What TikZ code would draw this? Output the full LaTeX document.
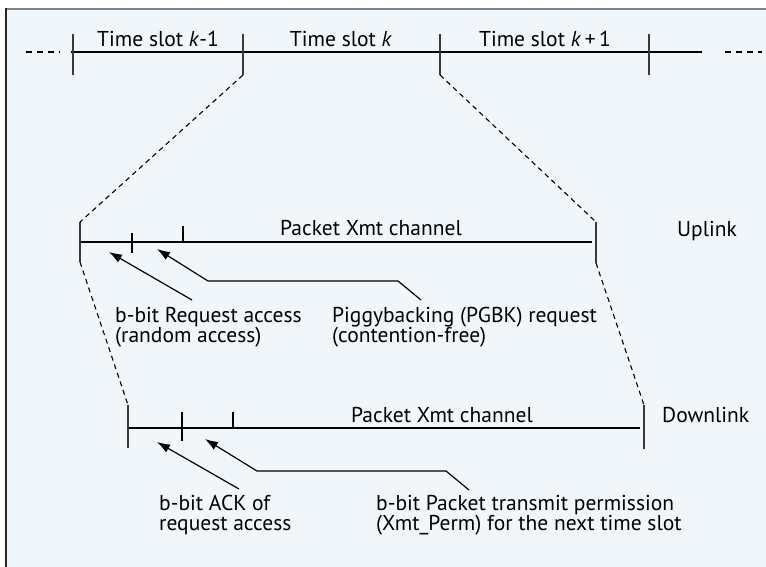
\documentclass[tikz,border=0pt]{standalone}
\usepackage{fontspec}
\setmainfont{PT Sans}
\usetikzlibrary{arrows.meta}
\definecolor{bgblue}{HTML}{F1F6FA}
\definecolor{topframe}{HTML}{858585}
\definecolor{tickgray}{HTML}{3A3A3A}
\tikzset{
  axis/.style={line width=1.3pt, black},
  tickmark/.style={line width=1.8pt, tickgray},
  zoomline/.style={line width=1.1pt, dash pattern=on 5pt off 4pt, black},
  pointer/.style={line width=1.2pt, -{Latex[length=13pt,width=9pt]}},
  lbl/.style={inner sep=0pt, anchor=base west, font=\fontsize{21.5}{20}\selectfont},
  clbl/.style={inner sep=0pt, anchor=base, font=\fontsize{21.5}{20}\selectfont},
}
\newcommand{\twolines}[2]{\vtop{\baselineskip=20pt\lineskiplimit=-20pt\hbox{#1}\hbox{#2}}}
\begin{document}
\begin{tikzpicture}[x=1pt,y=-1pt]
\useasboundingbox (0,0) rectangle (766,567);
\fill[bgblue] (6,9) rectangle (766,567);
\draw[topframe, line width=2pt] (5,9) -- (766,9);
\draw[black!85, line width=2pt] (6,8) -- (6,567);

% ---- top time line ----
\coordinate (tl0) at (71,52);
\coordinate (tr0) at (702,52);
\coordinate (dl0) at (26,52);
\coordinate (dl1) at (60,52);
\coordinate (dr0) at (725,52);
\coordinate (dr1) at (762,52);
\draw[axis] (tl0) -- (tr0);
\draw[line width=1.1pt, dash pattern=on 6pt off 5pt] (dl0) -- (dl1);
\draw[line width=1.1pt, dash pattern=on 6pt off 5pt] (dr0) -- (dr1);
\foreach \n/\x in {a/73,b/243,c/440,d/649}{
  \coordinate (T\n t) at (\x,34);
  \coordinate (T\n b) at (\x,75);
  \draw[tickmark] (T\n t) -- (T\n b);
}
\node[clbl] (s1) at (158,47) {Time slot \textit{k}-1};
\node[clbl] (s2) at (341,47) {Time slot \textit{k}};
\node[clbl] (s3) at (545,47) {Time slot \textit{k}\,+\,1};

% ---- uplink ----
\coordinate (UL) at (80,242);
\coordinate (UR) at (592,242);
\draw[axis] (UL) -- (UR);
\coordinate (ULt) at (80,222); \coordinate (ULb) at (80,262);
\coordinate (URt) at (596,222); \coordinate (URb) at (596,263);
\draw[tickmark] (ULt) -- (ULb);
\draw[tickmark] (URt) -- (URb);
\coordinate (U1t) at (132,233); \coordinate (U1b) at (132,253);
\coordinate (U2t) at (183,226); \coordinate (U2b) at (183,242);
\draw[line width=1.3pt] (U1t) -- (U1b);
\draw[line width=1.3pt] (U2t) -- (U2b);
\node[clbl] (uch) at (371,235) {Packet Xmt channel};
\node[lbl] (up) at (677,236) {Uplink};

% ---- downlink ----
\coordinate (DL) at (128,428);
\coordinate (DR) at (640,428);
\draw[axis] (DL) -- (DR);
\coordinate (DLt) at (128,405); \coordinate (DLb) at (128,448);
\coordinate (DRt) at (644,405); \coordinate (DRb) at (644,449);
\draw[tickmark] (DLt) -- (DLb);
\draw[tickmark] (DRt) -- (DRb);
\coordinate (D1t) at (182,412); \coordinate (D1b) at (182,441);
\coordinate (D2t) at (233,412); \coordinate (D2b) at (233,428);
\draw[line width=1.3pt] (D1t) -- (D1b);
\draw[line width=1.3pt] (D2t) -- (D2b);
\node[clbl] (dch) at (442,422) {Packet Xmt channel};
\node[lbl] (down) at (662,422) {Downlink};

% ---- zoom lines ----
\draw[zoomline] (Tbb) -- (ULt);
\draw[zoomline] (Tcb) -- (URt);
\draw[zoomline] (ULb) -- (DLt);
\draw[zoomline] (URb) -- (DRt);

% ---- uplink labels and pointers ----
\node[lbl] (req) at (115,322) {\twolines{b-bit Request access}{(random access)}};
\node[lbl] (pgbk) at (332,322) {\twolines{Piggybacking (PGBK) request}{(contention-free)}};
\coordinate (a1s) at (192,300); \coordinate (a1e) at (109,252);
\draw[pointer] (a1s) -- (a1e);
\coordinate (a2s) at (421,300); \coordinate (a2c) at (398,281);
\coordinate (a2d) at (208,281); \coordinate (a2e) at (157,249);
\draw[pointer] (a2s) -- (a2c) -- (a2d) -- (a2e);

% ---- downlink labels and pointers ----
\node[lbl] (ack) at (159,510) {\twolines{b-bit ACK of}{request access}};
\node[lbl] (perm) at (376,510) {\twolines{b-bit Packet transmit permission}{(Xmt\_Perm) for the next time slot}};
\coordinate (b1s) at (239,489); \coordinate (b1e) at (157,442);
\draw[pointer] (b1s) -- (b1e);
\coordinate (b2s) at (469,490); \coordinate (b2c) at (446,471);
\coordinate (b2d) at (257,471); \coordinate (b2e) at (205,439);
\draw[pointer] (b2s) -- (b2c) -- (b2d) -- (b2e);
\end{tikzpicture}
\end{document}
